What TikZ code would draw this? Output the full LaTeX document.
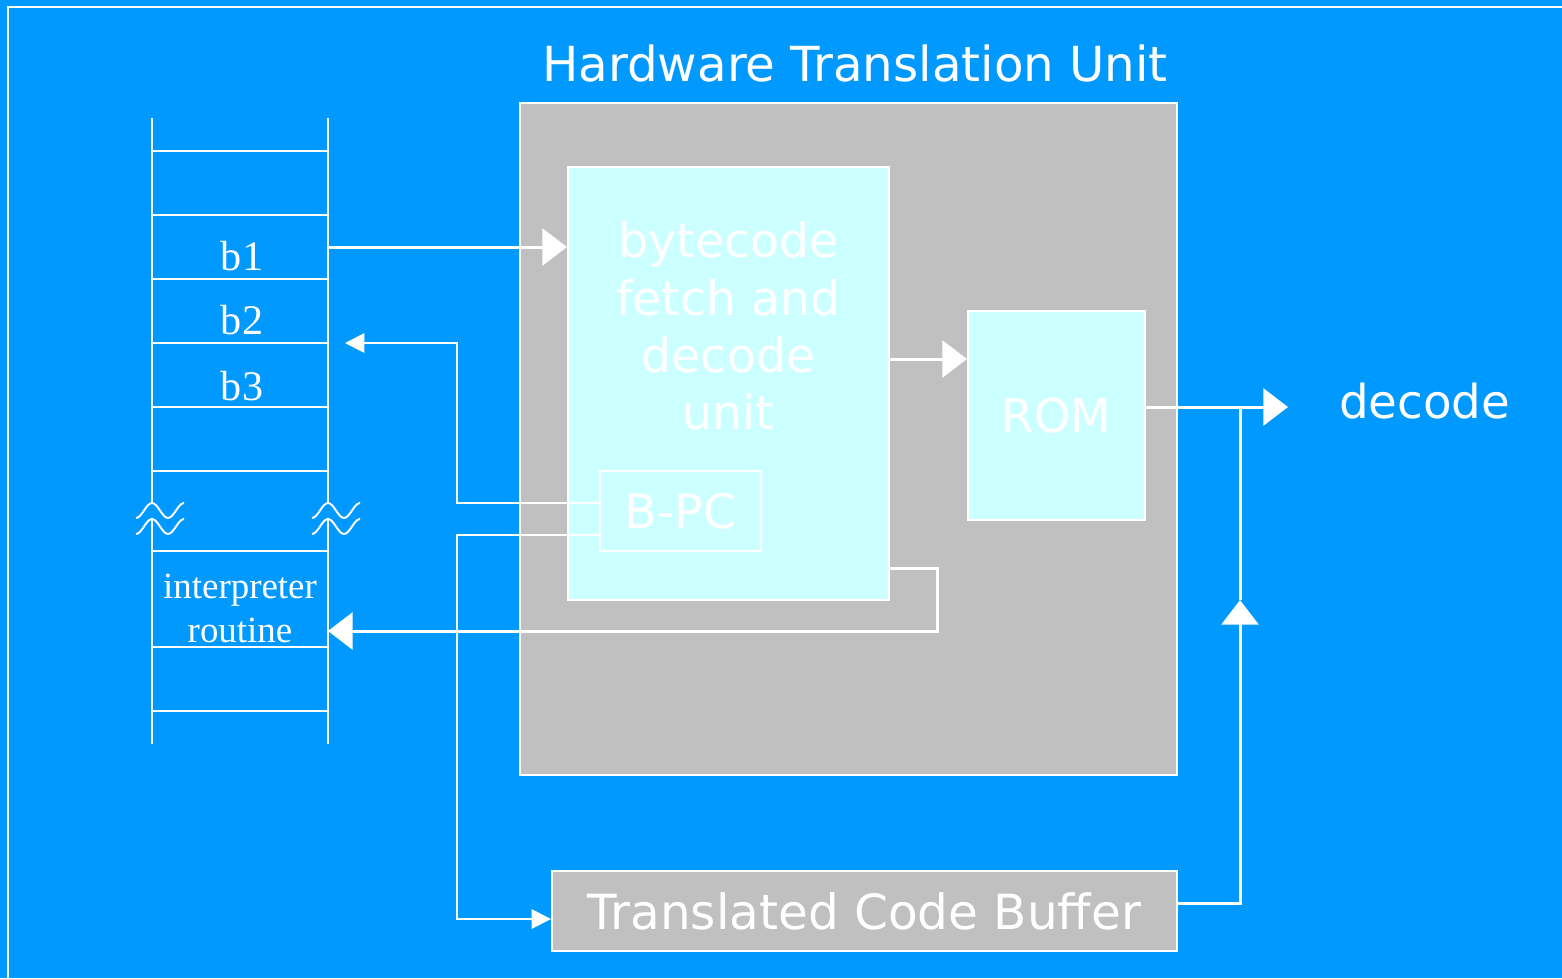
\documentclass[tikz,border=0pt]{standalone}
\usepackage{fontspec}
\setmainfont{Liberation Serif}
\newfontfamily\dvsans{DejaVu Sans}
\usetikzlibrary{arrows.meta,calc,positioning}

\definecolor{slideblue}{HTML}{0099FF}
\definecolor{unitgray}{HTML}{C0C0C0}
\definecolor{palecyan}{HTML}{CCFFFF}

\begin{document}
\begin{tikzpicture}[x=0.02cm,y=-0.02cm,
        unit/.style={draw=white,line width=1.2pt,inner sep=0pt,text=white},
        lbl/.style={text=white,font=\dvsans\fontsize{27}{33}\selectfont},
        cell/.style={text=white,font=\fontsize{24}{28}\selectfont},
        thin/.style={draw=white,line width=1.1pt},
        bigarrow/.style={draw=white,line width=1.7pt,
          -{Triangle[length=14pt,width=21pt]}},
        smallarrow/.style={draw=white,line width=1.1pt,
          -{Triangle[length=11pt,width=11pt]}}]
      % slide background and frame
      \fill[slideblue] (0,0) rectangle (1562,978);
      \useasboundingbox (0,0) rectangle (1562,978);
      \draw[white,line width=1.4pt] (1562,7) -- (8,7) -- (8,978);

      % memory stack
      \draw[thin] (152,118) -- (152,503) (152,520) -- (152,744);
      \draw[thin] (328,118) -- (328,503) (328,520) -- (328,744);
      \foreach \y in {151,215,279,343,407,471,551,647,711}
        \draw[thin] (152,\y) -- (328,\y);
      \foreach \dx in {0,176}
        \foreach \dy in {0,16}
          \draw[thin] ([shift={(\dx,\dy)}]136,518) cos ++(8,-7.5) sin ++(8,-7.5)
            cos ++(8,7.5) sin ++(8,7.5) cos ++(8,-7.5) sin ++(8,-7.5);
      \node[cell] (b1) at (242,256) {b1};
      \node[cell] (b2) at (242,320) {b2};
      \node[cell] (b3) at (242,386) {b3};
      \node[cell,font=\fontsize{21}{25}\selectfont,align=center]
        (interp) at (240,608) {interpreter\\routine};
      \coordinate (b1port) at (328,247);
      \coordinate (b2port) at (345,343);
      \coordinate (irport) at (328,631);

      % translation unit
      \node[lbl,font=\dvsans\fontsize{27.5}{33}\selectfont]
        (title) at (855,63) {Hardware Translation Unit};
      \node[unit,fill=unitgray,minimum width=13.14cm,minimum height=13.44cm]
        (htu) at (848.5,439) {};
      \node[unit,fill=palecyan,minimum width=6.42cm,minimum height=8.66cm]
        (fdu) at (728.5,383.5) {};
      \node[lbl,align=center,font=\dvsans\fontsize{27}{32.6}\selectfont]
        (fdutext) at (728.5,326) {bytecode\\fetch and\\decode\\unit};
      \node[unit,minimum width=3.22cm,minimum height=1.6cm,
        font=\dvsans\fontsize{27}{33}\selectfont]
        (bpc) at (680.5,511) {B-PC};
      \node[unit,fill=palecyan,minimum width=3.54cm,minimum height=4.18cm,
        font=\dvsans\fontsize{26.5}{32}\selectfont]
        (rom) at (1056.5,415.5) {ROM};
      \node[unit,fill=unitgray,minimum width=12.5cm,minimum height=1.6cm,
        font=\dvsans\fontsize{27.6}{33}\selectfont]
        (tcb) at (864.5,911) {Translated Code Buffer};
      \node[lbl,font=\dvsans\fontsize{26.6}{32}\selectfont,anchor=west]
        (decode) at (1333,401) {decode};

      \coordinate (f2r) at ($(fdu.east)+(0,-24.5)$);
      \coordinate (r2d) at ($(rom.east)+(0,-8.5)$);
      \coordinate (decin) at (1288,407);
      \coordinate (jn) at (1240,407);
      \coordinate (jnhead) at (1240,600);
      \coordinate (busx) at (457,0);
      \coordinate (tcbin) at ($(tcb.west)+(0,8)$);

      % data paths
      \draw[bigarrow] (b1port) -- (b1port -| fdu.west);
      \draw[bigarrow] (f2r) -- (f2r -| rom.west);
      \draw[bigarrow] (r2d) -- (decin);
      \draw[smallarrow] ($(bpc.west)+(0,-8)$) -| (busx |- b2port) -- (b2port);
      \draw[smallarrow] ($(bpc.west)+(0,24)$) -| (busx |- tcbin) -- (tcbin);
      \draw[bigarrow] ($(fdu.south east)+(0,-33)$) -- ++(47,0) |- (irport);
      \draw[bigarrow] ($(tcb.east)+(0,-8)$) -| (jnhead);
      \draw[white,line width=1.7pt] (jnhead) -- (jn);
\end{tikzpicture}
\end{document}
